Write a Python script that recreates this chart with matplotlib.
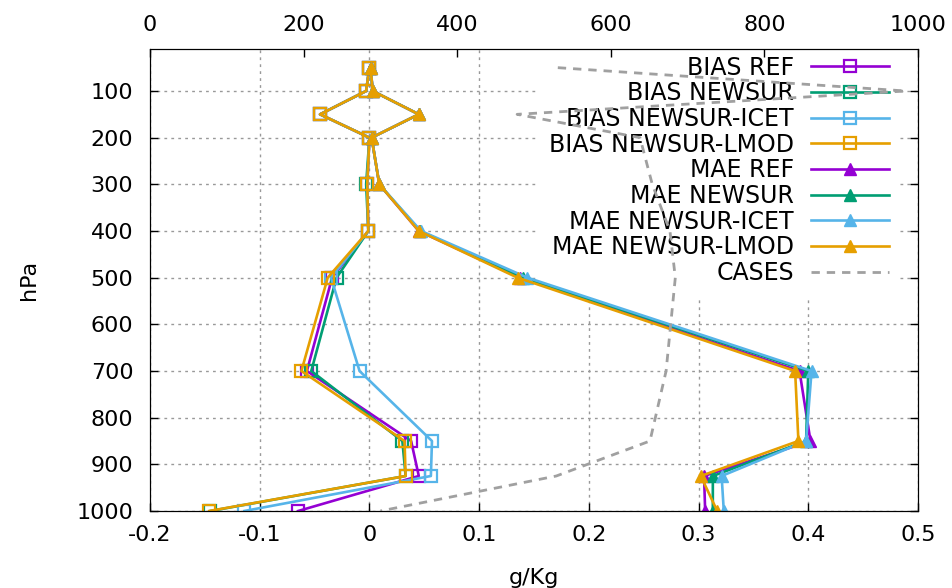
import matplotlib
matplotlib.use("Agg")
import matplotlib.pyplot as plt

# pressure levels (hPa)
levels = [50, 100, 150, 200, 300, 400, 500, 700, 850, 925, 1000]

# BIAS (g/Kg)
bias_ref = [0.0, -0.003, -0.045, 0.0, -0.002, -0.001, -0.034, -0.057, 0.038, 0.045, -0.065]
bias_newsur = [0.0, -0.003, -0.045, 0.0, -0.003, -0.001, -0.030, -0.053, 0.030, 0.033, -0.145]
bias_icet = [0.0, -0.003, -0.045, 0.0, -0.002, -0.001, -0.035, -0.009, 0.057, 0.056, -0.114]
bias_lmod = [0.0, -0.003, -0.045, 0.0, -0.002, -0.001, -0.038, -0.062, 0.032, 0.033, -0.146]

# MAE (g/Kg)
mae_ref = [0.001, 0.003, 0.045, 0.002, 0.009, 0.045, 0.137, 0.392, 0.402, 0.305, 0.306]
mae_newsur = [0.001, 0.003, 0.045, 0.002, 0.009, 0.046, 0.140, 0.400, 0.398, 0.313, 0.313]
mae_icet = [0.001, 0.003, 0.045, 0.002, 0.009, 0.047, 0.144, 0.403, 0.398, 0.321, 0.323]
mae_lmod = [0.001, 0.003, 0.045, 0.002, 0.009, 0.045, 0.135, 0.388, 0.391, 0.302, 0.317]

# number of cases (top axis)
cases = [531, 984, 478, 638, 654, 677, 684, 672, 651, 529, 300]

names = ["REF", "NEWSUR", "NEWSUR-ICET", "NEWSUR-LMOD"]
colors = ["#9400d3", "#009e73", "#56b4e9", "#e69f00"]

plt.rcParams['font.family'] = ['DejaVu Sans']
plt.rcParams['font.size'] = 16

fig = plt.figure(figsize=(9.52, 5.88), dpi=100)
ax = fig.add_axes([150/952, 1-511/588, 768/952, 462/588])

handles = []
for name, col, vals in zip(names, colors, [bias_ref, bias_newsur, bias_icet, bias_lmod]):
    h, = ax.plot(vals, levels, color=col, lw=1.9, marker='s', ms=8,
                 mfc='none', mec=col, mew=1.6, zorder=2, label="BIAS " + name)
    handles.append(h)
for name, col, vals in zip(names, colors, [mae_ref, mae_newsur, mae_icet, mae_lmod]):
    h, = ax.plot(vals, levels, color=col, lw=1.9, marker='^', ms=9,
                 mfc=col, mec=col, zorder=2, label="MAE " + name)
    handles.append(h)

ax.set_xlim(-0.2, 0.5)
ax.set_ylim(1000, 10)
ax.set_xticks([-0.2, -0.1, 0, 0.1, 0.2, 0.3, 0.4, 0.5])
ax.set_xticklabels(["-0.2", "-0.1", "0", "0.1", "0.2", "0.3", "0.4", "0.5"])
ax.set_yticks(range(100, 1001, 100))
ax.set_axisbelow(True)
ax.grid(True, color='#999999', ls=(0, (2, 3)), lw=1.0)
ax.tick_params(direction='in', length=6, width=1, top=True, right=True)
ax.tick_params(axis='y', pad=12)
ax.tick_params(axis='x', pad=10)
ax.set_xlabel("g/Kg", labelpad=17)
ax.set_ylabel("hPa", labelpad=27)

ax2 = ax.twiny()
h, = ax2.plot(cases, levels, color='#a0a0a0', lw=2, ls=(0, (3, 2.5)), label="CASES")
handles.append(h)
ax2.set_xlim(0, 1000)
ax2.set_xticks(range(0, 1001, 200))
ax2.tick_params(direction='in', length=6, width=1, pad=10)

leg = ax.legend(handles=handles, loc='upper right', bbox_to_anchor=(0.977, 1.011),
                markerfirst=False, frameon=True, facecolor='white', edgecolor='none',
                framealpha=1, fancybox=False, labelspacing=0.07, handlelength=3.3,
                handletextpad=0.7, borderpad=0.5, borderaxespad=0, fontsize=17)
leg.set_zorder(1)

fig.savefig("out.png", dpi=100)
